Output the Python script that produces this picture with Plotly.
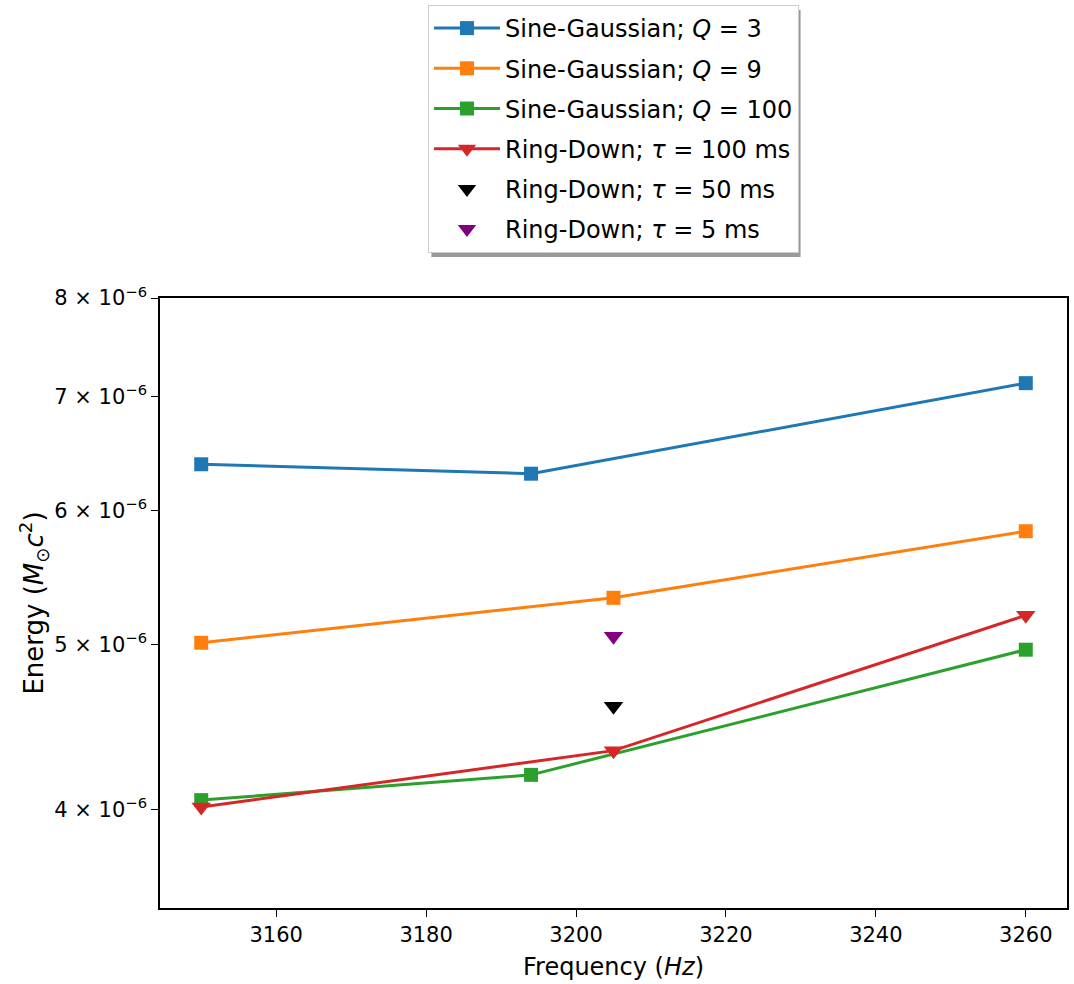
import plotly.graph_objects as go
import numpy as np

# Frequencies (Hz) and radiated energies (solar-mass units × c^2)
freq_q3 = [3150, 3194, 3260]
energy_q3 = [6.386e-6, 6.305e-6, 7.128e-6]

freq_q9 = [3150, 3205, 3260]
energy_q9 = [5.014e-6, 5.329e-6, 5.832e-6]

freq_q100 = [3150, 3194, 3260]
energy_q100 = [4.051e-6, 4.192e-6, 4.967e-6]

freq_rd100 = [3150, 3205, 3260]
energy_rd100 = [4.014e-6, 4.332e-6, 5.204e-6]

freq_rd50 = [3205]
energy_rd50 = [4.600e-6]

freq_rd5 = [3205]
energy_rd5 = [5.059e-6]

x_ticks = [3160, 3180, 3200, 3220, 3240, 3260]
y_ticks = [4e-6, 5e-6, 6e-6, 7e-6, 8e-6]
y_ticktext = [f"{int(round(v * 1e6))} × 10<sup>−6</sup>" for v in y_ticks]

FONT = "DejaVu Sans"
W, H = 1074, 984
M_L, M_R, M_T, M_B = 160, 5, 298, 76
plot_h = H - M_T - M_B
plot_w = W - M_L - M_R

fig = go.Figure()

series = [
    (freq_q3, energy_q3, "#1f77b4", "square", "lines+markers", "Sine-Gaussian; <i>Q</i> = 3"),
    (freq_q9, energy_q9, "#ff7f0e", "square", "lines+markers", "Sine-Gaussian; <i>Q</i> = 9"),
    (freq_q100, energy_q100, "#2ca02c", "square", "lines+markers", "Sine-Gaussian; <i>Q</i> = 100"),
    (freq_rd100, energy_rd100, "#d62728", "triangle-down", "lines+markers", "Ring-Down; <i>τ</i> = 100 ms"),
    (freq_rd50, energy_rd50, "black", "triangle-down", "markers", "Ring-Down; <i>τ</i> = 50 ms"),
    (freq_rd5, energy_rd5, "purple", "triangle-down", "markers", "Ring-Down; <i>τ</i> = 5 ms"),
]

for i, (xs, ys, color, symbol, mode, name) in enumerate(series):
    size = 14 if symbol == "square" else 17
    fig.add_trace(go.Scatter(
        x=xs, y=ys, mode=mode, name=name,
        line=dict(color=color, width=3),
        marker=dict(color=color, symbol=symbol, size=size, line=dict(width=0)),
        legendgroup=f"g{i}",
    ))


def px_x(p):
    return (p - M_L) / plot_w


def px_y(p):
    return (H - M_B - p) / plot_h


# drop shadow peeking out below/right of the legend box
fig.add_shape(
    type="rect", xref="paper", yref="paper",
    x0=px_x(432), x1=px_x(802), y0=px_y(257), y1=px_y(10),
    fillcolor="rgba(0,0,0,0.4)", line=dict(width=0), layer="below",
)

fig.update_layout(
    width=W, height=H,
    margin=dict(l=M_L, r=M_R, t=M_T, b=M_B),
    paper_bgcolor="white", plot_bgcolor="white",
    font=dict(family=FONT, color="black", size=21),
    showlegend=True,
    legend=dict(
        x=0.5, xanchor="center", y=px_y(5), yanchor="top",
        bgcolor="white", bordercolor="#cccccc", borderwidth=1,
        font=dict(family=FONT, size=24, color="black"),
        tracegroupgap=6, itemwidth=66,
    ),
    xaxis=dict(
        range=[3144.5, 3265.5], tickvals=x_ticks,
        showline=True, linecolor="black", linewidth=1.6, mirror=True,
        ticks="outside", ticklen=7, tickwidth=1.4, tickcolor="black",
        showgrid=False, zeroline=False,
        tickfont=dict(size=21),
        title=dict(text="Frequency (<i>Hz</i>)", font=dict(size=24), standoff=12),
    ),
    yaxis=dict(
        type="log", range=[np.log10(3.5e-6), np.log10(8e-6)],
        tickvals=y_ticks, ticktext=y_ticktext,
        showline=True, linecolor="black", linewidth=1.6, mirror=True,
        ticks="outside", ticklen=7, tickwidth=1.4, tickcolor="black",
        showgrid=False, zeroline=False,
        tickfont=dict(size=21),
        title=dict(text="Energy (<i>M</i><sub>⊙</sub><i>c</i><sup>2</sup>)",
                   font=dict(size=26), standoff=3),
    ),
)

fig.write_html("out.html")
